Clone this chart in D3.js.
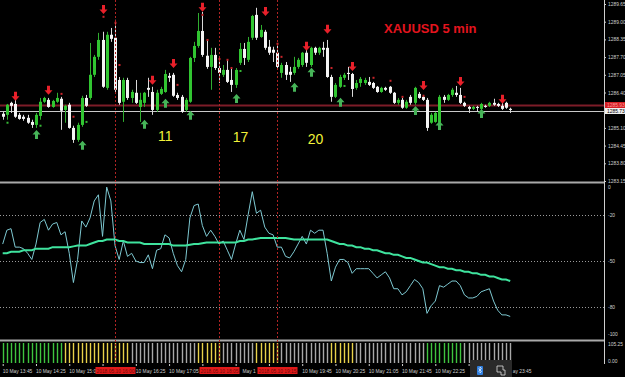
<!DOCTYPE html>
<html><head><meta charset="utf-8">
<script src="https://cdn.jsdelivr.net/npm/d3@7"></script>
<style>body{margin:0;background:#000;overflow:hidden}svg{display:block}text{font-family:"Liberation Sans",Arial,sans-serif}</style>
</head><body><svg id="c" width="625" height="377"></svg>
<script>
// ---------- DATA ----------
const open=[1285.62,1285.58,1286.02,1285.98,1285.58,1285.51,1285.47,1285.32,1285.21,1285.54,
1286.06,1286.13,1285.87,1286.06,1286.17,1285.76,1285.95,1285.10,1284.66,1285.21,
1286.20,1286.20,1287.05,1287.71,1288.33,1286.57,1288.52,1288.41,1286.86,1286.06,
1286.86,1286.20,1286.39,1285.87,1286.02,1286.57,1286.42,1285.76,1286.35,1286.42,
1287.01,1287.05,1286.31,1286.24,1285.76,1286.06,1287.67,1288.11,1288.66,1287.75,
1287.34,1287.78,1287.30,1287.05,1287.23,1286.86,1286.68,1287.49,1288.00,1287.60,
1288.41,1289.25,1288.44,1288.63,1288.08,1287.97,1287.86,1287.12,1287.41,1287.16,
1287.12,1287.34,1287.41,1287.86,1287.41,1288.04,1287.86,1288.04,1288.04,1286.97,
1286.24,1286.61,1286.94,1287.12,1287.08,1286.57,1286.75,1286.75,1286.79,1286.75,
1286.61,1286.42,1286.57,1286.61,1286.39,1286.02,1286.13,1285.84,1286.24,1286.02,
1286.35,1286.24,1286.13,1285.29,1285.32,1285.29,1286.24,1286.13,1286.31,1286.39,
1286.31,1286.02,1285.87,1285.80,1285.87,1285.80,1285.91,1285.91,1286.02,1285.98,
1285.91,1286.02,1285.80];
const high=[1285.69,1285.98,1286.06,1286.13,1285.65,1285.58,1285.58,1285.40,1285.65,1286.20,
1286.24,1286.20,1286.13,1286.39,1286.24,1285.95,1286.02,1285.18,1285.29,1286.28,
1286.31,1288.22,1287.78,1288.59,1288.63,1288.63,1288.77,1289.07,1286.97,1286.94,
1286.94,1286.50,1286.86,1286.39,1286.42,1286.94,1286.61,1286.50,1286.61,1287.23,
1287.12,1287.12,1286.39,1286.31,1286.20,1287.71,1288.26,1289.32,1289.36,1288.33,
1288.04,1288.04,1287.67,1287.41,1287.60,1287.30,1287.30,1288.22,1288.22,1288.44,
1289.25,1289.51,1288.88,1288.70,1288.33,1288.08,1288.22,1287.49,1287.52,1287.34,
1287.71,1287.67,1287.89,1288.08,1288.08,1288.08,1288.08,1288.26,1288.33,1287.05,
1286.75,1287.05,1287.12,1287.34,1287.12,1286.86,1286.97,1286.94,1286.97,1286.79,
1286.64,1286.61,1286.61,1286.64,1286.42,1286.20,1286.20,1286.13,1286.31,1286.61,
1286.42,1286.31,1286.20,1285.65,1285.69,1286.31,1286.31,1286.35,1286.57,1286.64,
1286.57,1286.06,1285.91,1285.91,1285.91,1286.02,1285.95,1286.06,1286.17,1286.02,
1286.02,1286.06,1285.84];
const low=[1285.40,1285.40,1285.65,1285.47,1285.40,1285.36,1285.25,1285.10,1285.10,1285.40,
1286.02,1285.84,1285.84,1286.02,1285.03,1285.29,1285.07,1284.55,1284.59,1285.14,
1285.87,1286.13,1286.97,1287.60,1286.57,1286.50,1288.26,1286.42,1285.95,1285.32,
1286.13,1286.02,1285.98,1285.32,1285.87,1286.24,1285.58,1285.69,1286.31,1286.39,
1286.79,1286.24,1286.13,1285.65,1285.69,1286.02,1287.52,1288.04,1287.71,1287.27,
1286.50,1287.23,1286.75,1286.97,1286.75,1286.42,1286.57,1287.41,1287.41,1287.52,
1288.33,1288.33,1288.41,1287.97,1287.78,1287.52,1287.30,1286.94,1286.86,1286.79,
1287.05,1287.27,1287.34,1287.34,1287.34,1287.78,1287.78,1287.71,1286.94,1286.06,
1286.20,1286.57,1286.86,1286.86,1286.24,1286.50,1286.61,1286.68,1286.64,1286.53,
1286.39,1286.39,1286.46,1286.35,1285.98,1285.95,1285.80,1285.80,1285.95,1285.95,
1286.17,1286.09,1284.99,1285.25,1285.29,1285.10,1286.02,1286.09,1286.24,1286.24,
1285.98,1285.87,1285.65,1285.76,1285.69,1285.73,1285.84,1285.87,1285.91,1285.87,
1285.76,1285.80,1285.65];
const close=[1285.51,1285.95,1285.91,1285.51,1285.43,1285.43,1285.29,1285.21,1285.58,1286.06,
1286.20,1285.87,1286.09,1286.20,1285.73,1285.91,1285.10,1284.66,1285.21,1286.20,
1285.91,1287.05,1287.71,1288.33,1286.61,1288.52,1288.37,1286.50,1286.02,1286.86,
1286.20,1286.42,1286.02,1286.13,1286.39,1286.50,1285.76,1286.39,1286.53,1287.08,
1286.94,1286.28,1286.20,1285.69,1286.13,1287.67,1288.11,1288.66,1287.78,1287.34,
1287.78,1287.30,1287.12,1287.23,1286.79,1286.68,1287.23,1288.00,1287.67,1288.26,
1289.21,1288.41,1288.70,1288.04,1287.86,1287.86,1287.34,1287.41,1287.05,1287.05,
1287.34,1287.60,1287.86,1287.49,1288.04,1287.86,1288.04,1287.97,1286.97,1286.24,
1286.68,1286.97,1287.05,1287.08,1286.53,1286.75,1286.90,1286.86,1286.68,1286.57,
1286.42,1286.57,1286.50,1286.39,1286.02,1286.13,1285.84,1286.06,1286.02,1286.57,
1286.20,1286.13,1285.10,1285.58,1285.65,1286.24,1286.13,1286.31,1286.50,1286.31,
1286.02,1285.91,1285.80,1285.87,1285.84,1285.98,1285.87,1286.02,1285.95,1285.91,
1285.80,1285.84,1285.76];

// signal arrows / dots: [candle index, price]
const sellArrows=[[4,1286.24],[12,1286.46],[25,1289.43],[37,1286.83],[42,1287.45],[49,1289.51],[64,1289.36],[74,1288.08],[79,1288.70],[85,1287.34],[102,1286.64],[111,1286.79],[121,1286.13]];
const buyArrows=[[9,1284.88],[20,1284.48],[35,1285.25],[40,1286.02],[46,1285.58],[57,1286.20],[71,1286.61],[75,1287.16],[82,1286.06],[100,1285.76],[106,1285.21],[116,1285.65]];
const redDots=[[15,1286.35],[18,1285.51],[25,1289.18],[28,1288.96],[29,1287.41],[43,1286.68],[49,1289.25],[50,1288.33],[53,1287.63],[55,1287.60],[56,1287.30],[67,1288.19],[68,1287.71],[80,1287.30],[90,1286.94],[94,1286.83],[97,1286.24],[102,1286.28],[112,1286.24]];
const greenDots=[[2,1285.29],[10,1285.18],[21,1285.32],[23,1287.27],[46,1287.30],[54,1287.16],[58,1287.19],[83,1286.64]];

const priceTicks=[1289.65,1289.00,1288.35,1287.70,1287.05,1286.40,1285.10,1284.45,1283.80,1283.15];
const askPrice=1285.93, bidPrice=1285.73;

const wpr=[-39,-30,-29,-41,-41,-42,-45,-49,-39,-25,
-23,-30,-26,-25,-33,-31,-45,-64,-49,-24,
-28,-22,-11,-7,-34,-2,-11,-40,-49,-37,
-47,-45,-50,-51,-51,-46,-55,-43,-42,-33,
-35,-45,-53,-57,-49,-22,-14,-13,-27,-34,
-30,-34,-39,-37,-43,-49,-39,-30,-36,-20,
-5,-19,-17,-28,-32,-33,-41,-41,-47,-48,
-44,-39,-34,-39,-30,-32,-30,-30,-45,-63,
-54,-49,-49,-51,-58,-55,-55,-55,-55,-58,
-61,-59,-57,-61,-68,-68,-72,-70,-66,-62,
-64,-68,-84,-79,-76,-66,-67,-65,-63,-63,
-66,-72,-74,-74,-73,-70,-69,-68,-76,-82,
-85,-85,-86];
const wprMA=[-45,-45,-44,-44,-44,-43,-43,-43,-42,-42,
-42,-42,-41,-41,-41,-41,-41,-40.5,-40,-40,
-40,-39,-38,-37,-37,-36,-36,-36,-37,-37,
-38,-38,-38,-38,-39,-39,-39,-39,-39,-39,
-39,-40,-40,-40,-40,-39.5,-39,-39,-38.5,-38,
-38,-38,-38,-38,-38,-38,-38,-37,-37,-36,
-36,-35.5,-35,-35,-35,-35,-35,-35,-35,-35.5,
-36,-36,-36,-36,-36,-36,-36,-36,-36,-37,
-38,-39,-39,-40,-40,-41,-41,-42,-42,-43,
-43,-44,-45,-45,-46,-46,-47,-48,-48,-49,
-50,-51,-51,-52,-53,-54,-54,-55,-55,-56,
-56,-57,-57,-58,-58,-59,-59,-60,-60,-61,
-62,-62,-63];
const wprLevels=[-20,-50,-80];
const wprLabels=[[0,"0"],[-20,"-20"],[-50,"-50"],[-80,"-80"],[-100,"-100"]];

// histogram state per candle: g=green, y=yellow, n=neutral grey
const histState=("ggggggggggggggg"+"yyyyyyyyyyyyyyyy"+"nnnnnnnnnnnnnnnn"+"yyyyyy"+"nnnnnnnn"+"yyyyyy"+
 "nnnnnnnnnnnn"+"yyyyyy"+"nnnnnnnnnnnnnnnnn"+"ggggggggg"+"nnnnnnnnnnnn").split("");
const histLabels=["105.25","0.00"];

const timeIdx=[1,9,17,25,33,41,49,57,65,73,81,89,97,105,113,121];
const timeLabels=["10 May 13:45","10 May 14:25","10 May 15:05","10 May 15:45","10 May 16:25","10 May 17:05","10 May 17:45","10 May 18:25","10 May 19:05","10 May 19:45","10 May 20:25","10 May 21:05","10 May 21:45","10 May 22:25","10 May 23:05","10 May 23:45"];
const vLines=[[28,"2018.05.10 16:00"],[53,"2018.05.10 18:05"],[67,"2018.05.10 19:15"]];
const waveLabels=[[40,"11",1284.62],[58,"17",1284.58],[76,"20",1284.51]];
const title="XAUUSD 5 min";

// ---------- DRAW ----------
const W=625,H=377,AX=604;
const svg=d3.select("#c");
svg.append("rect").attr("width",W).attr("height",H).attr("fill","#000");
const idx=d3.range(1,open.length+1);
const x=d3.scalePoint().domain(idx).range([2.7,510.2]);
const cx=i=>Math.round(x(i))+0.5;
const y=d3.scaleLinear().domain([1283.15,1289.65]).range([181,4]);
const yo=d3.scaleLinear().domain([-100,0]).range([338,184]);

// panel separators
[182.5,340.5].forEach(yy=>svg.append("line").attr("x1",0).attr("x2",AX).attr("y1",yy).attr("y2",yy).attr("stroke","#a9a9a9").attr("stroke-width",2));
svg.append("line").attr("x1",AX+0.5).attr("x2",AX+0.5).attr("y1",0).attr("y2",364).attr("stroke","#cfcfcf");

// ask / bid lines
svg.append("line").attr("x1",0).attr("x2",AX).attr("y1",Math.round(y(askPrice))+0.5).attr("y2",Math.round(y(askPrice))+0.5).attr("stroke","#7d1c28").attr("stroke-width",2);
svg.append("line").attr("x1",0).attr("x2",AX).attr("y1",Math.round(y(bidPrice))+0.5).attr("y2",Math.round(y(bidPrice))+0.5).attr("stroke","#c9c9c9").attr("stroke-width",1);

// candles
const gC=svg.append("g");
idx.forEach((i,k)=>{
  const up=close[k]>=open[k];
  const col=up?"#31c531":"#f4f4f4";
  gC.append("line").attr("x1",cx(i)).attr("x2",cx(i)).attr("y1",y(high[k])).attr("y2",y(low[k])).attr("stroke",up?"#2fae2f":"#d8d8d8").attr("stroke-width",1);
  const t=y(Math.max(open[k],close[k])), b=y(Math.min(open[k],close[k]));
  gC.append("rect").attr("x",cx(i)-1.5).attr("width",3).attr("y",t).attr("height",Math.max(1,b-t)).attr("fill",col);
});

// dots
redDots.forEach(([i,p])=>svg.append("rect").attr("x",cx(i)-1).attr("y",y(p)-1).attr("width",2).attr("height",2).attr("fill","#c8242a"));
greenDots.forEach(([i,p])=>svg.append("rect").attr("x",cx(i)-1).attr("y",y(p)-1).attr("width",2).attr("height",2).attr("fill","#36b836"));

// arrows
sellArrows.forEach(([i,p])=>{const X=cx(i),Y=y(p);
  svg.append("path").attr("d",`M${X-1.5},${Y-5}h3v4.5h2.5l-4,4.5l-4,-4.5h2.5z`).attr("fill","#e8202a");});
buyArrows.forEach(([i,p])=>{const X=cx(i),Y=y(p);
  svg.append("path").attr("d",`M${X-1.5},${Y+5}h3v-4.5h2.5l-4,-4.5l-4,4.5h2.5z`).attr("fill","#46b458");});

// wave numbers & title
waveLabels.forEach(([i,t,p])=>svg.append("text").attr("x",x(i)-7).attr("y",y(p)).attr("fill","#f2f23a").attr("font-size",14).text(t));
svg.append("text").attr("x",384).attr("y",33).attr("fill","#e4141e").attr("font-size",13).attr("font-weight","bold").text(title);

// price axis
const pax=svg.append("g").attr("transform",`translate(${AX},0)`).call(d3.axisRight(y).tickValues(priceTicks).tickSize(2).tickFormat(d3.format(".2f")));
pax.select(".domain").remove();
pax.selectAll("line").attr("stroke","#cfcfcf");
pax.selectAll("text").attr("fill","#cfcfcf").attr("font-size",4.9).attr("x",4);

// ask / bid labels
[[askPrice,"#d51f25","#ff9a9a"],[bidPrice,"#f0f0f0","#000"]].forEach(([p,bg,fg])=>{
  const yy=Math.round(y(p));
  svg.append("rect").attr("x",AX+1).attr("y",yy-3).attr("width",20).attr("height",6).attr("fill",bg);
  svg.append("text").attr("x",AX+3).attr("y",yy+2).attr("fill",fg).attr("font-size",4.9).text(p.toFixed(2));
});

// oscillator
wprLevels.forEach(v=>svg.append("line").attr("x1",0).attr("x2",AX).attr("y1",Math.round(yo(v))+0.5).attr("y2",Math.round(yo(v))+0.5).attr("stroke","#9a9a9a").attr("stroke-dasharray","1,2"));
svg.append("path").datum(wpr).attr("fill","none").attr("stroke","#7ec9d2").attr("stroke-width",1)
  .attr("d",d3.line().x((d,k)=>x(idx[k])).y(d=>yo(d)));
svg.append("path").datum(wprMA).attr("fill","none").attr("stroke","#3fe39e").attr("stroke-width",2)
  .attr("d",d3.line().x((d,k)=>x(idx[k])).y(d=>yo(d)));
wprLabels.forEach(([v,t])=>svg.append("text").attr("x",AX+4).attr("y",Math.min(336,Math.max(189,yo(v)+2))).attr("fill","#cfcfcf").attr("font-size",4.9).text(t));

// histogram
const hc={g:"#3fc43f",y:"#e8d24a",n:"#a8a8a8"};
histState.forEach((s,k)=>svg.append("line").attr("x1",cx(idx[k])).attr("x2",cx(idx[k])).attr("y1",343).attr("y2",363).attr("stroke",hc[s]).attr("stroke-width",1.4));
svg.append("text").attr("x",AX+4).attr("y",346).attr("fill","#cfcfcf").attr("font-size",4.9).text(histLabels[0]);
svg.append("text").attr("x",AX+4).attr("y",363).attr("fill","#cfcfcf").attr("font-size",4.9).text(histLabels[1]);

// time axis (ticks via d3 axis, labels placed so that covered parts are hidden like the reference)
const tax=svg.append("g").attr("transform","translate(0,364)").call(d3.axisBottom(x).tickValues(timeIdx).tickSize(2).tickFormat(""));
tax.select(".domain").remove();
tax.selectAll("line").attr("stroke","#cfcfcf");
const occluders=vLines.map(([i])=>[cx(i)-20,cx(i)+20]).concat([[470,512]]);
const gT=svg.append("g");
timeIdx.forEach((i,k)=>{
  const t=gT.append("text").attr("x",x(i)).attr("y",373).attr("fill","#cfcfcf").attr("font-size",4.9).text(timeLabels[k]);
  const el=t.node(), s=timeLabels[k];
  let best=[0,-1],cur=null;
  for(let c=0;c<s.length;c++){
    const a=el.getStartPositionOfChar(c).x, b=el.getEndPositionOfChar(c).x;
    const vis=occluders.every(([o1,o2])=>b<=o1+0.8||a>=o2-0.8);
    if(vis){ if(cur===null)cur=c; if(c-cur>best[1]-best[0]) best=[cur,c]; }
    else cur=null;
  }
  if(best[1]<0){t.remove();return;}
  let [s0,s1]=best; while(s0<=s1&&s[s0]===" ")s0++; while(s1>=s0&&s[s1]===" ")s1--;
  if(s1<s0){t.remove();return;}
  const nx=el.getStartPositionOfChar(s0).x;
  t.text(s.slice(s0,s1+1)).attr("x",nx);
});

// vertical lines + labels
vLines.forEach(([i,t])=>{
  const X=cx(i);
  svg.append("line").attr("x1",X).attr("x2",X).attr("y1",0).attr("y2",364).attr("stroke","#b02424").attr("stroke-dasharray","2,2");
  svg.append("rect").attr("x",X-20).attr("y",367).attr("width",40).attr("height",7).attr("fill","#e01a1a");
  svg.append("text").attr("x",X).attr("y",372.5).attr("text-anchor","middle").attr("fill","#6e0c0c").attr("font-size",4.9).text(t);
});

// taskbar overlay
svg.append("rect").attr("x",470).attr("y",360).attr("width",42).attr("height",17).attr("fill","#2a2a2a");
svg.append("rect").attr("x",477).attr("y",366).attr("width",6).attr("height",9).attr("rx",1).attr("fill","#2f7fe0");
svg.append("path").attr("d","M478.5,368.5l3,3l-1.5,1.5v-6l1.5,1.5l-3,3").attr("fill","none").attr("stroke","#fff").attr("stroke-width",0.6);
svg.append("path").attr("d","M497,366h6v4h2v5h-4v-3h-4z").attr("fill","none").attr("stroke","#ddd").attr("stroke-width",0.8);
</script></body></html>
